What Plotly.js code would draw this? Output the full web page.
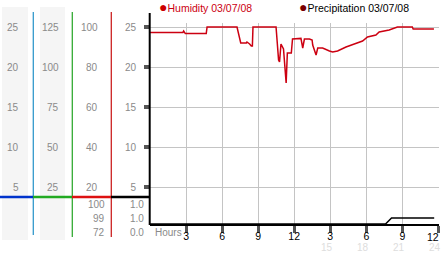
<!DOCTYPE html>
<html><head><meta charset="utf-8">
<script src="https://cdn.plot.ly/plotly-3.0.1.min.js"></script>
<style>html,body{margin:0;padding:0;background:#fff}#chart{width:442px;height:253px}</style>
</head><body><div id="chart"></div>
<script>
// ---- data ----
const humidityHours = [0, 2.74, 2.8, 2.94, 4.68, 4.75, 7.24, 7.38, 7.55, 8.02, 8.07, 8.29, 8.43, 8.52, 8.57, 10.49, 10.59, 10.7, 10.78, 10.9, 11.11, 11.22, 11.33, 11.43, 11.76, 11.86, 12.56, 12.71, 12.85, 13.27, 13.49, 13.54, 13.68, 13.82, 13.96, 14.37, 14.93, 15.2, 15.61, 16.31, 17.0, 17.69, 18.1, 18.8, 19.07, 19.9, 20.59, 21.83, 21.9, 23.63];
const humidityPct = [97.3, 97.3, 98, 96.7, 96.7, 100, 100, 95.5, 92, 92, 92.5, 91.5, 90.5, 90.5, 100, 100, 92, 83.5, 82.5, 91.5, 89, 80, 72, 87, 87, 94, 94.3, 89.5, 94, 94, 93.5, 91, 88.5, 86, 89.5, 89.5, 88, 87.5, 88, 90, 91.5, 93, 95, 96, 97.5, 98.5, 100, 100, 99, 99];
const precipHours = [0, 19.6, 20.1, 23.65];
const precipMm = [0, 0, 1.0, 1.0];

const hourTicks = [3, 6, 9, 12, 15, 18, 21, 24];
const hourTickLabels = ['3', '6', '9', '12', '3', '6', '9', '12'];
const hour24Ticks = [15, 18, 21, 24];
const hour24Labels = ['15', '18', '21', '24'];

// label columns (left of the chart), each with its own scale
const col1Ticks = [5, 10, 15, 20, 25];
const col1Labels = ['5', '10', '15', '20', '25'];
const col2Ticks = [25, 50, 75, 100, 125];
const col2Labels = ['25', '50', '75', '100', '125'];
const col3Ticks = [20, 40, 60, 80, 100];          // humidity %
const col3Labels = ['20', '40', '60', '80', '100'];
const col4Labels = ['5', '10', '15', '20', '25'];

const humidityStats = ['100', '99', '72'];
const precipStats = ['1.0', '1.0', '0.0'];
const seriesNames = ['Humidity 03/07/08', 'Precipitation 03/07/08'];
const xAxisName = 'Hours';

// ---- geometry helpers ----
const W = 442, H = 253, ML = 0, MR = 3, MT = 23, MB = 29;
const PW = W - ML - MR, PH = H - MT - MB;
const px = p => (p - ML) / PW;
const py = p => (H - MB - p) / PH;
const FONT = 'Liberation Sans, Arial, sans-serif';
const GRAY = '#8a8a8a';

const humRange = [1.5, 102];      // humidity % range of the main panel
const col1Factor = 4;             // column 1 value -> humidity % position
const col2Factor = 0.8;           // column 2 value -> humidity % position

const traces = [
  {x: humidityHours, y: humidityPct, type: 'scatter', mode: 'lines', yaxis: 'y', xaxis: 'x',
   line: {color: '#cc0011', width: 1.5}, name: seriesNames[0], showlegend: false, hoverinfo: 'skip'},
  {x: precipHours, y: precipMm, type: 'scatter', mode: 'lines', yaxis: 'y2', xaxis: 'x',
   line: {color: '#000', width: 1.5}, name: seriesNames[1], showlegend: false, hoverinfo: 'skip'}
];

const shapes = [];
shapes.push({type: 'rect', xref: 'paper', yref: 'paper', x0: px(2), x1: px(28), y0: py(240), y1: py(7), fillcolor: '#f5f5f5', line: {width: 0}, layer: 'below'});
shapes.push({type: 'rect', xref: 'paper', yref: 'paper', x0: px(40), x1: px(65), y0: py(240), y1: py(7), fillcolor: '#f5f5f5', line: {width: 0}, layer: 'below'});
[[33.3, '#3399cc', 235], [72.3, '#33aa33', 237], [111.3, '#cc2222', 237]].forEach(([x, c, yb]) => {
  shapes.push({type: 'line', xref: 'paper', yref: 'paper', x0: px(x), x1: px(x), y0: py(yb), y1: py(12), line: {color: c, width: 1.3}});
});
[[0, 33, '#0033cc'], [33, 72, '#22aa22'], [72, 111, '#dd1111'], [111, 150, '#000']].forEach(([a, b, c]) => {
  shapes.push({type: 'line', xref: 'paper', yref: 'paper', x0: px(a), x1: px(b), y0: py(197), y1: py(197), line: {color: c, width: 2.5}});
});
shapes.push({type: 'line', xref: 'paper', yref: 'paper', x0: px(149.7), x1: px(149.7), y0: py(225), y1: py(13), line: {color: '#000', width: 2}});

const annotations = [];
function colLabels(ticks, labels, factor, rightPx) {
  ticks.forEach((v, i) => annotations.push({xref: 'paper', yref: 'y', x: px(rightPx), y: v * factor, xanchor: 'right', yanchor: 'middle',
    showarrow: false, text: labels[i], font: {family: FONT, size: 10, color: GRAY}}));
}
colLabels(col1Ticks, col1Labels, col1Factor, 20.5);
colLabels(col2Ticks, col2Labels, col2Factor, 60.5);
colLabels(col3Ticks, col3Labels, 1, 99.5);

annotations.push({xref: 'paper', yref: 'paper', x: px(157), y: py(6.5), xanchor: 'left', yanchor: 'middle', showarrow: false,
  text: '<span style="color:#cc0000;font-size:14px">●</span><span style="color:#cc0011">' + seriesNames[0] + '</span>', font: {family: FONT, size: 10.5}});
annotations.push({xref: 'paper', yref: 'paper', x: px(297), y: py(6.5), xanchor: 'left', yanchor: 'middle', showarrow: false,
  text: '<span style="color:#7a0000;font-size:14px">●</span><span style="color:#000">' + seriesNames[1] + '</span>', font: {family: FONT, size: 10.5}});
const statY = [204, 218, 232];
humidityStats.forEach((t, i) => annotations.push({xref: 'paper', yref: 'paper', x: px(106.5), y: py(statY[i]), xanchor: 'right', yanchor: 'middle', showarrow: false, text: t, font: {family: FONT, size: 10, color: GRAY}}));
precipStats.forEach((t, i) => annotations.push({xref: 'paper', yref: 'paper', x: px(145.5), y: py(statY[i]), xanchor: 'right', yanchor: 'middle', showarrow: false, text: t, font: {family: FONT, size: 10, color: GRAY}}));
annotations.push({xref: 'paper', yref: 'paper', x: px(153), y: py(232), xanchor: 'left', yanchor: 'middle', showarrow: false, text: xAxisName, font: {family: FONT, size: 10, color: GRAY}});
hour24Ticks.forEach((h, i) => annotations.push({xref: 'x', yref: 'paper', x: h, xshift: -3, y: py(247.5), xanchor: 'center', yanchor: 'middle', showarrow: false, text: hour24Labels[i], font: {family: FONT, size: 10, color: '#dddddd'}}));
// last hour label sits at the right edge: keep it inside the picture
const lastIdx = hourTicks.length - 1;
annotations.push({xref: 'x', yref: 'paper', x: hourTicks[lastIdx], xshift: 3, y: py(237), xanchor: 'right', yanchor: 'middle', showarrow: false,
  text: hourTickLabels[lastIdx], font: {family: FONT, size: 10.5, color: '#000'}});

const layout = {
  width: W, height: H, margin: {l: ML, r: MR, t: MT, b: MB, pad: 0},
  paper_bgcolor: '#fff', plot_bgcolor: 'rgba(0,0,0,0)', showlegend: false,
  xaxis: {domain: [px(150), 1], range: [0, 24.05], anchor: 'y', tickmode: 'array', tickvals: hourTicks,
    ticktext: hourTickLabels.map((t, i) => i === lastIdx ? '' : t),
    ticks: 'outside', ticklen: 7, tickwidth: 3, tickcolor: '#555', ticklabelstandoff: -6,
    showline: true, linecolor: '#000', linewidth: 2,
    showgrid: true, gridcolor: '#c4c4c4', gridwidth: 1, zeroline: false, automargin: false,
    tickfont: {family: FONT, size: 10.5, color: '#000'}, fixedrange: true},
  yaxis: {domain: [0, 1], anchor: 'x', range: humRange, tickmode: 'array', tickvals: col3Ticks, ticktext: col4Labels,
    ticks: 'outside', ticklen: 5, tickwidth: 4, tickcolor: '#555', ticklabelstandoff: 6,
    showgrid: true, gridcolor: '#c4c4c4', gridwidth: 1, zeroline: false, showline: false, automargin: false,
    tickfont: {family: FONT, size: 10, color: GRAY}, fixedrange: true},
  yaxis2: {domain: [0, py(197)], range: [0, 4.5], anchor: 'x', visible: false, fixedrange: true},
  shapes: shapes, annotations: annotations
};

Plotly.newPlot('chart', traces, layout, {displayModeBar: false, staticPlot: true});
</script></body></html>
